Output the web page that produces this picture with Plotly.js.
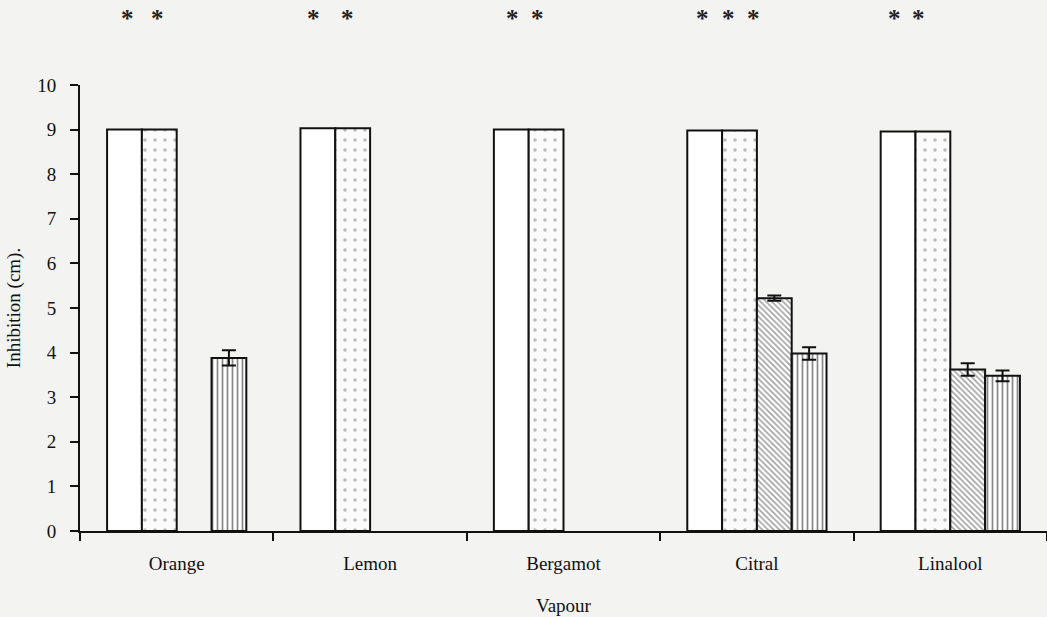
<!DOCTYPE html>
<html>
<head>
<meta charset="utf-8">
<script src="https://cdn.plot.ly/plotly-3.0.1.min.js"></script>
<style>
  html, body { margin: 0; padding: 0; background: #f3f3f1; }
  #chart { width: 1047px; height: 617px; }
</style>
</head>
<body>
<div id="chart"></div>
<script>
// Inhibition zone (cm) for each vapour, four treatments per vapour
const vapours = ["Orange", "Lemon", "Bergamot", "Citral", "Linalool"];

const plainVals  = [9.0, 9.03, 9.0, 8.98, 8.96];
const dottedVals = [9.0, 9.03, 9.0, 8.98, 8.96];
const hatchVals  = [null, null, null, 5.22, 3.62];
const hatchErr   = [0, 0, 0, 0.06, 0.14];
const stripeVals = [3.88, null, null, 3.98, 3.48];
const stripeErr  = [0.17, 0, 0, 0.14, 0.12];

// number of significance asterisks shown above each vapour group
const starCounts = [2, 2, 2, 3, 2];

const serif = "Liberation Serif, Times New Roman, serif";
const outline = { color: "#111", width: 2 };
const errStyle = (arr) => ({ type: "data", array: arr, visible: true,
                             color: "#111", thickness: 2, width: 7 });

const traces = [
  { type: "bar", x: vapours, y: plainVals, name: "plain",
    marker: { color: "#ffffff", line: outline } },
  { type: "bar", x: vapours, y: dottedVals, name: "dotted",
    marker: { color: "#ffffff", line: outline,
              pattern: { shape: ".", fgcolor: "#7a7a7a", bgcolor: "#fbfbfb",
                         size: 10, solidity: 0.1, fillmode: "overlay" } } },
  { type: "bar", x: vapours, y: hatchVals, name: "hatched",
    error_y: errStyle(hatchErr),
    marker: { color: "#ffffff", line: outline,
              pattern: { shape: "\\", fgcolor: "#444444", bgcolor: "#ffffff",
                         size: 4, solidity: 0.4, fillmode: "overlay" } } },
  { type: "bar", x: vapours, y: stripeVals, name: "striped",
    error_y: errStyle(stripeErr),
    marker: { color: "#ffffff", line: outline,
              pattern: { shape: "|", fgcolor: "#111111", bgcolor: "#ffffff",
                         size: 5, solidity: 0.35, fillmode: "overlay" } } }
];

// horizontal placement (in category units) of each asterisk within its group
const starOffsets = [
  [-0.257, -0.097],
  [-0.295, -0.119],
  [-0.266, -0.137],
  [-0.279, -0.149, -0.020],
  [-0.286, -0.162]
];

const annotations = [];
starCounts.forEach((n, ci) => {
  for (let k = 0; k < n; k++) {
    annotations.push({
      xref: "x", yref: "paper", x: ci + starOffsets[ci][k], y: 1.148,
      text: "<b>*</b>", showarrow: false, xanchor: "center", yanchor: "middle",
      font: { family: serif, size: 25, color: "#222" }
    });
  }
});

const layout = {
  width: 1047, height: 617,
  margin: { l: 80, r: 0, t: 85, b: 86 },
  paper_bgcolor: "#f3f3f1", plot_bgcolor: "rgba(0,0,0,0)",
  showlegend: false,
  barmode: "group", bargap: 0.28, bargroupgap: 0,
  font: { family: serif, color: "#111", size: 19 },
  xaxis: {
    type: "category", range: [-0.5, 4.5], fixedrange: true,
    showline: true, linecolor: "#111", linewidth: 2,
    ticks: "outside", tickson: "boundaries", ticklen: 8, tickwidth: 2, tickcolor: "#111",
    ticklabelstandoff: 14,
    showgrid: false, zeroline: false,
    tickfont: { family: serif, size: 19, color: "#111" },
    title: { text: "Vapour", font: { family: serif, size: 19, color: "#111" }, standoff: 26 }
  },
  yaxis: {
    range: [0, 10], dtick: 1, tick0: 0, fixedrange: true,
    showline: true, linecolor: "#111", linewidth: 2,
    ticks: "outside", ticklen: 8, tickwidth: 2, tickcolor: "#111",
    ticklabelstandoff: 10,
    showgrid: false, zeroline: false,
    tickfont: { family: serif, size: 19, color: "#111" },
    title: { text: "Inhibition (cm).", font: { family: serif, size: 19, color: "#111" }, standoff: 12 }
  },
  annotations: annotations
};

Plotly.newPlot("chart", traces, layout, { staticPlot: true, displayModeBar: false });
</script>
</body>
</html>
